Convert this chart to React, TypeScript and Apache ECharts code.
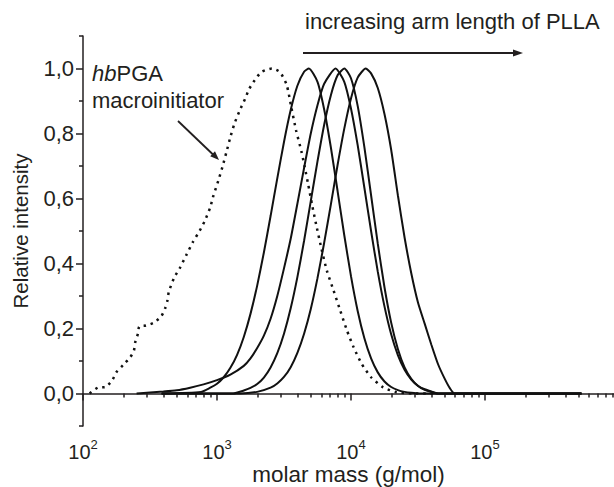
import React, { useEffect, useRef } from 'react';
import * as echarts from 'echarts';

const FONT = '"Liberation Sans", Arial, Helvetica, sans-serif';

// x values are log10(molar mass / g mol^-1)
const pgaLogM = [2.05, 2.11, 2.17, 2.22, 2.25, 2.30, 2.35, 2.38, 2.39, 2.41, 2.42, 2.47, 2.53, 2.585, 2.615, 2.63, 2.64, 2.68, 2.72, 2.77, 2.82, 2.87, 2.91, 2.95, 2.97, 3.01, 3.04, 3.07, 3.10, 3.13, 3.17, 3.21, 3.24, 3.28, 3.33, 3.41, 3.47, 3.52, 3.555, 3.59, 3.63, 3.655, 3.68, 3.71, 3.74, 3.78, 3.82, 3.87, 3.92, 3.97, 4.02, 4.08, 4.15, 4.24, 4.34, 4.46, 4.61];
const pgaInt = [0, 0.018, 0.02, 0.042, 0.066, 0.088, 0.11, 0.132, 0.158, 0.184, 0.206, 0.209, 0.218, 0.238, 0.264, 0.286, 0.312, 0.356, 0.384, 0.425, 0.466, 0.5, 0.532, 0.573, 0.604, 0.655, 0.696, 0.742, 0.789, 0.83, 0.871, 0.907, 0.937, 0.963, 0.989, 1.0, 0.989, 0.95, 0.88, 0.81, 0.745, 0.696, 0.645, 0.58, 0.52, 0.445, 0.378, 0.317, 0.255, 0.194, 0.142, 0.091, 0.05, 0.019, 0.004, 0, 0];

const armALogM = [2.587, 2.88, 2.95, 3.0, 3.05, 3.1, 3.15, 3.2, 3.25, 3.3, 3.35, 3.4, 3.45, 3.5, 3.55, 3.6, 3.65, 3.686, 3.75, 3.8, 3.85, 3.9, 3.95, 4.0, 4.05, 4.1, 4.15, 4.2, 4.25, 4.3, 4.35, 4.4, 4.45, 4.51, 5.72];
const armAInt = [0, 0.005, 0.018, 0.03, 0.05, 0.079, 0.119, 0.174, 0.245, 0.332, 0.434, 0.546, 0.662, 0.774, 0.872, 0.947, 0.99, 1.0, 0.959, 0.874, 0.757, 0.623, 0.487, 0.361, 0.254, 0.17, 0.108, 0.065, 0.037, 0.02, 0.0105, 0.005, 0.002, 0, 0];

const armBLogM = [2.4, 2.5, 2.6, 2.7, 2.8, 2.9, 3.0, 3.1, 3.2, 3.25, 3.3, 3.35, 3.4, 3.45, 3.5, 3.55, 3.6, 3.65, 3.7, 3.75, 3.8, 3.885, 3.95, 4.0, 4.05, 4.1, 4.15, 4.2, 4.25, 4.3, 4.35, 4.4, 4.45, 4.5, 4.55, 4.6, 4.65, 5.72];
const armBInt = [0, 0.003, 0.006, 0.01, 0.018, 0.028, 0.041, 0.058, 0.085, 0.108, 0.14, 0.178, 0.23, 0.3, 0.385, 0.476, 0.584, 0.694, 0.8, 0.887, 0.953, 1.0, 0.959, 0.877, 0.764, 0.633, 0.5, 0.375, 0.268, 0.182, 0.118, 0.073, 0.043, 0.024, 0.013, 0.006, 0, 0];

const armCLogM = [2.587, 3.12, 3.2, 3.25, 3.3, 3.35, 3.4, 3.45, 3.5, 3.55, 3.6, 3.65, 3.7, 3.75, 3.8, 3.85, 3.9, 3.951, 4.0, 4.05, 4.1, 4.15, 4.2, 4.25, 4.3, 4.35, 4.4, 4.45, 4.5, 4.55, 4.6, 4.65, 5.72];
const armCInt = [0, 0, 0.009, 0.017, 0.029, 0.049, 0.08, 0.124, 0.184, 0.262, 0.358, 0.47, 0.592, 0.714, 0.827, 0.918, 0.979, 1.0, 0.97, 0.885, 0.758, 0.61, 0.461, 0.327, 0.218, 0.137, 0.08, 0.045, 0.023, 0.011, 0.005, 0, 0];

const armDLogM = [2.587, 3.17, 3.3, 3.4, 3.45, 3.5, 3.55, 3.6, 3.65, 3.7, 3.75, 3.8, 3.85, 3.9, 3.95, 4.0, 4.05, 4.11, 4.15, 4.2, 4.25, 4.3, 4.35, 4.4, 4.45, 4.5, 4.55, 4.6, 4.65, 4.7, 4.74, 4.774, 5.72];
const armDInt = [0, 0, 0.005, 0.018, 0.031, 0.051, 0.081, 0.125, 0.184, 0.26, 0.355, 0.464, 0.582, 0.703, 0.815, 0.908, 0.972, 1.0, 0.985, 0.94, 0.86, 0.75, 0.61, 0.48, 0.37, 0.28, 0.215, 0.15, 0.09, 0.045, 0.015, 0, 0];

const xDecades = [2, 3, 4, 5];
const xMin = 2;
const xMax = 5.963;
const yMajor = [0, 0.2, 0.4, 0.6, 0.8, 1.0];
const yMinor = [-0.1, 0.1, 0.3, 0.5, 0.7, 0.9, 1.1];

const xMinor: number[] = [];
for (let d = 2; d <= 5; d++) {
  for (let k = 2; k <= 9; k++) {
    const v = d + Math.log10(k);
    if (v <= xMax) xMinor.push(v);
  }
}

const zip = (a: number[], b: number[]) => a.map((x, i) => [x, b[i]]);

const AX = '#231f20';

export default function App() {
  const ref = useRef<HTMLDivElement>(null);
  useEffect(() => {
    if (!ref.current) return;
    const chart = echarts.init(ref.current, undefined, { renderer: 'svg' });
    const solid = (data: number[][]) => ({
      type: 'line',
      data,
      showSymbol: false,
      smooth: 0.2,
      lineStyle: { color: '#111', width: 2 },
      silent: true,
    });
    chart.setOption({
      animation: false,
      backgroundColor: '#fff',
      grid: { left: 83, right: 0, top: 36, bottom: 61, containLabel: false, outerBoundsMode: 'none' },
      xAxis: [
        {
          type: 'value',
          min: xMin,
          max: xMax,
          position: 'bottom',
          axisLine: { show: true, lineStyle: { color: AX, width: 1.5 } },
          axisTick: { show: true, customValues: xDecades, length: 7, lineStyle: { color: AX, width: 1.5 } },
          axisLabel: {
            customValues: xDecades,
            margin: 12,
            formatter: (v: number) => `{b|10}{s|${Math.round(v)}}`,
            rich: {
              b: { fontSize: 20, fontFamily: FONT, color: AX, lineHeight: 24, verticalAlign: 'bottom' },
              s: { fontSize: 13, fontFamily: FONT, color: AX, verticalAlign: 'top', lineHeight: 11 },
            },
          },
          splitLine: { show: false },
          name: 'molar mass (g/mol)',
          nameLocation: 'middle',
          nameGap: 37,
          nameMoveOverlap: false,
          nameTextStyle: { fontSize: 22.5, lineHeight: 22, fontFamily: FONT, color: AX },
        },
        {
          type: 'value',
          min: xMin,
          max: xMax,
          position: 'bottom',
          offset: 0,
          axisLine: { show: false },
          axisTick: { show: true, customValues: xMinor, length: 4, lineStyle: { color: AX, width: 1.5 } },
          axisLabel: { show: false },
          splitLine: { show: false },
        },
      ],
      yAxis: [
        {
          type: 'value',
          min: -0.1,
          max: 1.1,
          position: 'left',
          axisLine: { show: true, lineStyle: { color: AX, width: 1.5 } },
          axisTick: { show: true, customValues: yMajor, length: 7, lineStyle: { color: AX, width: 1.5 } },
          axisLabel: {
            customValues: yMajor,
            margin: 9,
            fontSize: 22,
            fontFamily: FONT,
            color: AX,
            formatter: (v: number) => v.toFixed(1).replace('.', ','),
          },
          splitLine: { show: false },
          name: 'Relative intensity',
          nameLocation: 'middle',
          nameGap: 52,
          nameMoveOverlap: false,
          nameTextStyle: { fontSize: 20.5, fontFamily: FONT, color: AX },
        },
        {
          type: 'value',
          min: -0.1,
          max: 1.1,
          position: 'left',
          offset: 0,
          axisLine: { show: false },
          axisTick: { show: true, customValues: yMinor, length: 4, lineStyle: { color: AX, width: 1.5 } },
          axisLabel: { show: false },
          splitLine: { show: false },
        },
      ],
      series: [
        {
          type: 'line',
          data: zip(pgaLogM, pgaInt),
          showSymbol: false,
          smooth: 0.2,
          lineStyle: { color: '#111', width: 2.5, type: [2.4, 4.8] },
          silent: true,
        },
        solid(zip(armALogM, armAInt)),
        solid(zip(armBLogM, armBInt)),
        solid(zip(armCLogM, armCInt)),
        solid(zip(armDLogM, armDInt)),
      ],
      graphic: [
        {
          type: 'text',
          style: { text: 'increasing arm length of PLLA', x: 305, y: 21, fontSize: 22, fontFamily: FONT, fill: AX, verticalAlign: 'middle' },
        },
        { type: 'line', shape: { x1: 303, y1: 53, x2: 515, y2: 53 }, style: { stroke: AX, lineWidth: 2 } },
        { type: 'polygon', shape: { points: [[513, 49.5], [523, 53], [513, 56.5]] }, style: { fill: AX } },
        {
          type: 'text',
          style: {
            text: '{i|hb}PGA',
            x: 92,
            y: 73.5,
            fontSize: 22,
            fontFamily: FONT,
            fill: AX,
            verticalAlign: 'middle',
            rich: { i: { fontStyle: 'italic', fontSize: 22, fontFamily: FONT, fill: AX } },
          },
        },
        {
          type: 'text',
          style: { text: 'macroinitiator', x: 92, y: 100.5, fontSize: 22, fontFamily: FONT, fill: AX, verticalAlign: 'middle' },
        },
        { type: 'line', shape: { x1: 178, y1: 121, x2: 213, y2: 154.5 }, style: { stroke: AX, lineWidth: 1.8 } },
        { type: 'polygon', shape: { points: [[219, 160], [210.2, 156.2], [215, 151.2]] }, style: { fill: AX } },
      ],
    });
    return () => chart.dispose();
  }, []);
  return <div ref={ref} style={{ position: 'fixed', left: 0, top: 0, width: 614, height: 487, background: '#fff' }} />;
}
